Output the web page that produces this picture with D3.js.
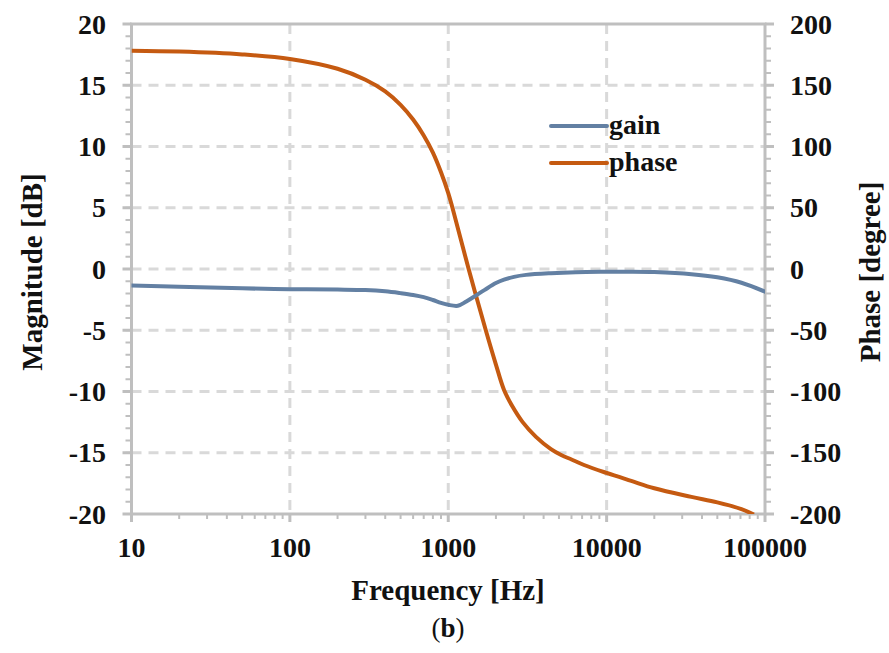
<!DOCTYPE html>
<html>
<head>
<meta charset="utf-8">
<script src="https://cdn.jsdelivr.net/npm/d3@7"></script>
<style>
	body { margin: 0; background: #fff; }
	text { font-family: "Liberation Serif", "Times New Roman", serif; font-weight: bold; fill: #111; }
</style>
</head>
<body>
<svg id="chart" width="889" height="653"></svg>
<script>
// frequency points (Hz)
let freqs = [10, 20, 50, 100, 200, 300, 400, 500, 600, 700, 800, 900, 1000, 1150, 1300, 1500, 1700, 2000, 2250, 2600, 3100, 4450, 6400, 10000, 14300, 20000, 34300, 50000, 71000, 100000];
let gain = [-1.35, -1.45, -1.58, -1.65, -1.68, -1.72, -1.82, -1.97, -2.12, -2.3, -2.53, -2.76, -2.92, -3.0, -2.65, -2.15, -1.7, -1.15, -0.87, -0.64, -0.48, -0.34, -0.26, -0.23, -0.22, -0.25, -0.42, -0.68, -1.12, -1.85];
let phaseFreqs = [10, 20, 50, 100, 200, 300, 400, 500, 600, 700, 800, 900, 1000, 1063, 1345, 1726, 2000, 2254, 2550, 2950, 3580, 4450, 5200, 6000, 7200, 10000, 14300, 20000, 34300, 50000, 71000, 85000];
let phase = [178.2, 177.5, 175.2, 171.5, 163.5, 154.5, 145, 134, 122, 109, 95, 79, 62, 50, 0, -50, -78, -99, -112.5, -125, -137, -147, -152, -155.5, -160, -166.5, -173, -179, -186, -190.5, -196, -200.5];

let xTicks = [10, 100, 1000, 10000, 100000];
let yTicks = [20, 15, 10, 5, 0, -5, -10, -15, -20];
let y2Ticks = [200, 150, 100, 50, 0, -50, -100, -150, -200];
let seriesNames = ["gain", "phase"];
let colors = ["#6380a3", "#c55a11"];

let svg = d3.select("#chart");
let plotL = 131.5, plotT = 24, plotR = 765, plotB = 514;

let x = d3.scaleLog().domain([10, 100000]).range([plotL, plotR]);
let y = d3.scaleLinear().domain([-20, 20]).range([plotB, plotT]);
let y2 = d3.scaleLinear().domain([-200, 200]).range([plotB, plotT]);

let gridColor = "#d9d9d9", axisColor = "#bfbfbf";

// dashed grid
let grid = svg.append("g");
grid.selectAll(".hg").data(yTicks.filter(d => d > -20 && d < 20)).enter().append("line")
	.attr("x1", plotL).attr("x2", plotR)
	.attr("y1", d => y(d)).attr("y2", d => y(d))
	.attr("stroke", gridColor).attr("stroke-width", 3).attr("stroke-dasharray", "10,7");
grid.selectAll(".vg").data(xTicks.filter(d => d > 10 && d < 100000)).enter().append("line")
	.attr("y1", plotT).attr("y2", plotB)
	.attr("x1", d => x(d)).attr("x2", d => x(d))
	.attr("stroke", gridColor).attr("stroke-width", 3).attr("stroke-dasharray", "10,7");

// minor ticks
let minorX = [];
for (let dec = 10; dec < 100000; dec *= 10)
	for (let k = 2; k <= 9; k++) minorX.push(dec * k);
let minorY = d3.range(-20, 21, 1);
let minorY2 = d3.range(-200, 201, 10);

let axes = svg.append("g").attr("stroke", axisColor);
axes.selectAll(".mx").data(minorX).enter().append("line")
	.attr("x1", d => x(d)).attr("x2", d => x(d)).attr("y1", plotB).attr("y2", plotB + 5)
	.attr("stroke-width", 2);
axes.selectAll(".my").data(minorY).enter().append("line")
	.attr("x1", plotL - 6).attr("x2", plotL).attr("y1", d => y(d)).attr("y2", d => y(d))
	.attr("stroke-width", 2);
axes.selectAll(".my2").data(minorY2).enter().append("line")
	.attr("x1", plotR).attr("x2", plotR + 6).attr("y1", d => y2(d)).attr("y2", d => y2(d))
	.attr("stroke-width", 2);
axes.selectAll(".Mx").data(xTicks).enter().append("line")
	.attr("x1", d => x(d)).attr("x2", d => x(d)).attr("y1", plotB).attr("y2", plotB + 8)
	.attr("stroke-width", 3);
axes.selectAll(".My").data(yTicks).enter().append("line")
	.attr("x1", plotL - 9).attr("x2", plotL).attr("y1", d => y(d)).attr("y2", d => y(d))
	.attr("stroke-width", 3);
axes.selectAll(".My2").data(y2Ticks).enter().append("line")
	.attr("x1", plotR).attr("x2", plotR + 9).attr("y1", d => y2(d)).attr("y2", d => y2(d))
	.attr("stroke-width", 3);

// frame
axes.append("rect")
	.attr("x", plotL).attr("y", plotT).attr("width", plotR - plotL).attr("height", plotB - plotT)
	.attr("fill", "none").attr("stroke-width", 3);

// curves
svg.append("clipPath").attr("id", "plotClip").append("rect")
	.attr("x", plotL).attr("y", plotT - 2).attr("width", plotR - plotL).attr("height", plotB - plotT + 2);

let gainLine = d3.line().x((d, i) => x(freqs[i])).y(d => y(d)).curve(d3.curveCatmullRom.alpha(0.5));
let phaseLine = d3.line().x((d, i) => x(phaseFreqs[i])).y(d => y2(d)).curve(d3.curveCatmullRom.alpha(0.5));

svg.append("path").datum(phase)
	.attr("d", phaseLine).attr("fill", "none").attr("stroke", colors[1])
	.attr("stroke-width", 4).attr("clip-path", "url(#plotClip)");
svg.append("path").datum(gain)
	.attr("d", gainLine).attr("fill", "none").attr("stroke", colors[0])
	.attr("stroke-width", 4).attr("stroke-linecap", "round").attr("clip-path", "url(#plotClip)");

// tick labels
let fs = 28;
svg.selectAll(".xl").data(xTicks).enter().append("text")
	.attr("x", d => x(d)).attr("y", 557).attr("text-anchor", "middle")
	.style("font-size", fs + "px").text(d => d);
svg.selectAll(".yl").data(yTicks).enter().append("text")
	.attr("x", 106).attr("y", d => y(d)).attr("dy", "0.34em").attr("text-anchor", "end")
	.style("font-size", fs + "px").text(d => d < 0 ? "-" + Math.abs(d) : d);
svg.selectAll(".y2l").data(y2Ticks).enter().append("text")
	.attr("x", 790).attr("y", d => y2(d)).attr("dy", "0.34em").attr("text-anchor", "start")
	.style("font-size", fs + "px").text(d => d < 0 ? "-" + Math.abs(d) : d);

// axis titles
svg.append("text").attr("x", 448).attr("y", 600).attr("text-anchor", "middle")
	.style("font-size", "29px").text("Frequency [Hz]");
svg.append("text").attr("transform", "translate(42," + 272 + ") rotate(-90)")
	.attr("text-anchor", "middle").style("font-size", "29px").text("Magnitude [dB]");
svg.append("text").attr("transform", "translate(880," + 272 + ") rotate(-90)")
	.attr("text-anchor", "middle").style("font-size", "29px").text("Phase [degree]");

let cap = svg.append("text").attr("x", 448).attr("y", 637).attr("text-anchor", "middle")
	.style("font-size", "27px");
cap.append("tspan").style("font-weight", "normal").text("(");
cap.append("tspan").text("b");
cap.append("tspan").style("font-weight", "normal").text(")");

// legend
let legend = svg.append("g");
seriesNames.forEach(function (name, i) {
	let ly = 126 + i * 37;
	legend.append("line").attr("x1", 551).attr("x2", 607).attr("y1", ly).attr("y2", ly)
		.attr("stroke", colors[i]).attr("stroke-width", 4).attr("stroke-linecap", "round");
	legend.append("text").attr("x", 609).attr("y", ly).attr("dy", "0.3em")
		.style("font-size", fs + "px").text(name);
});
</script>
</body>
</html>
